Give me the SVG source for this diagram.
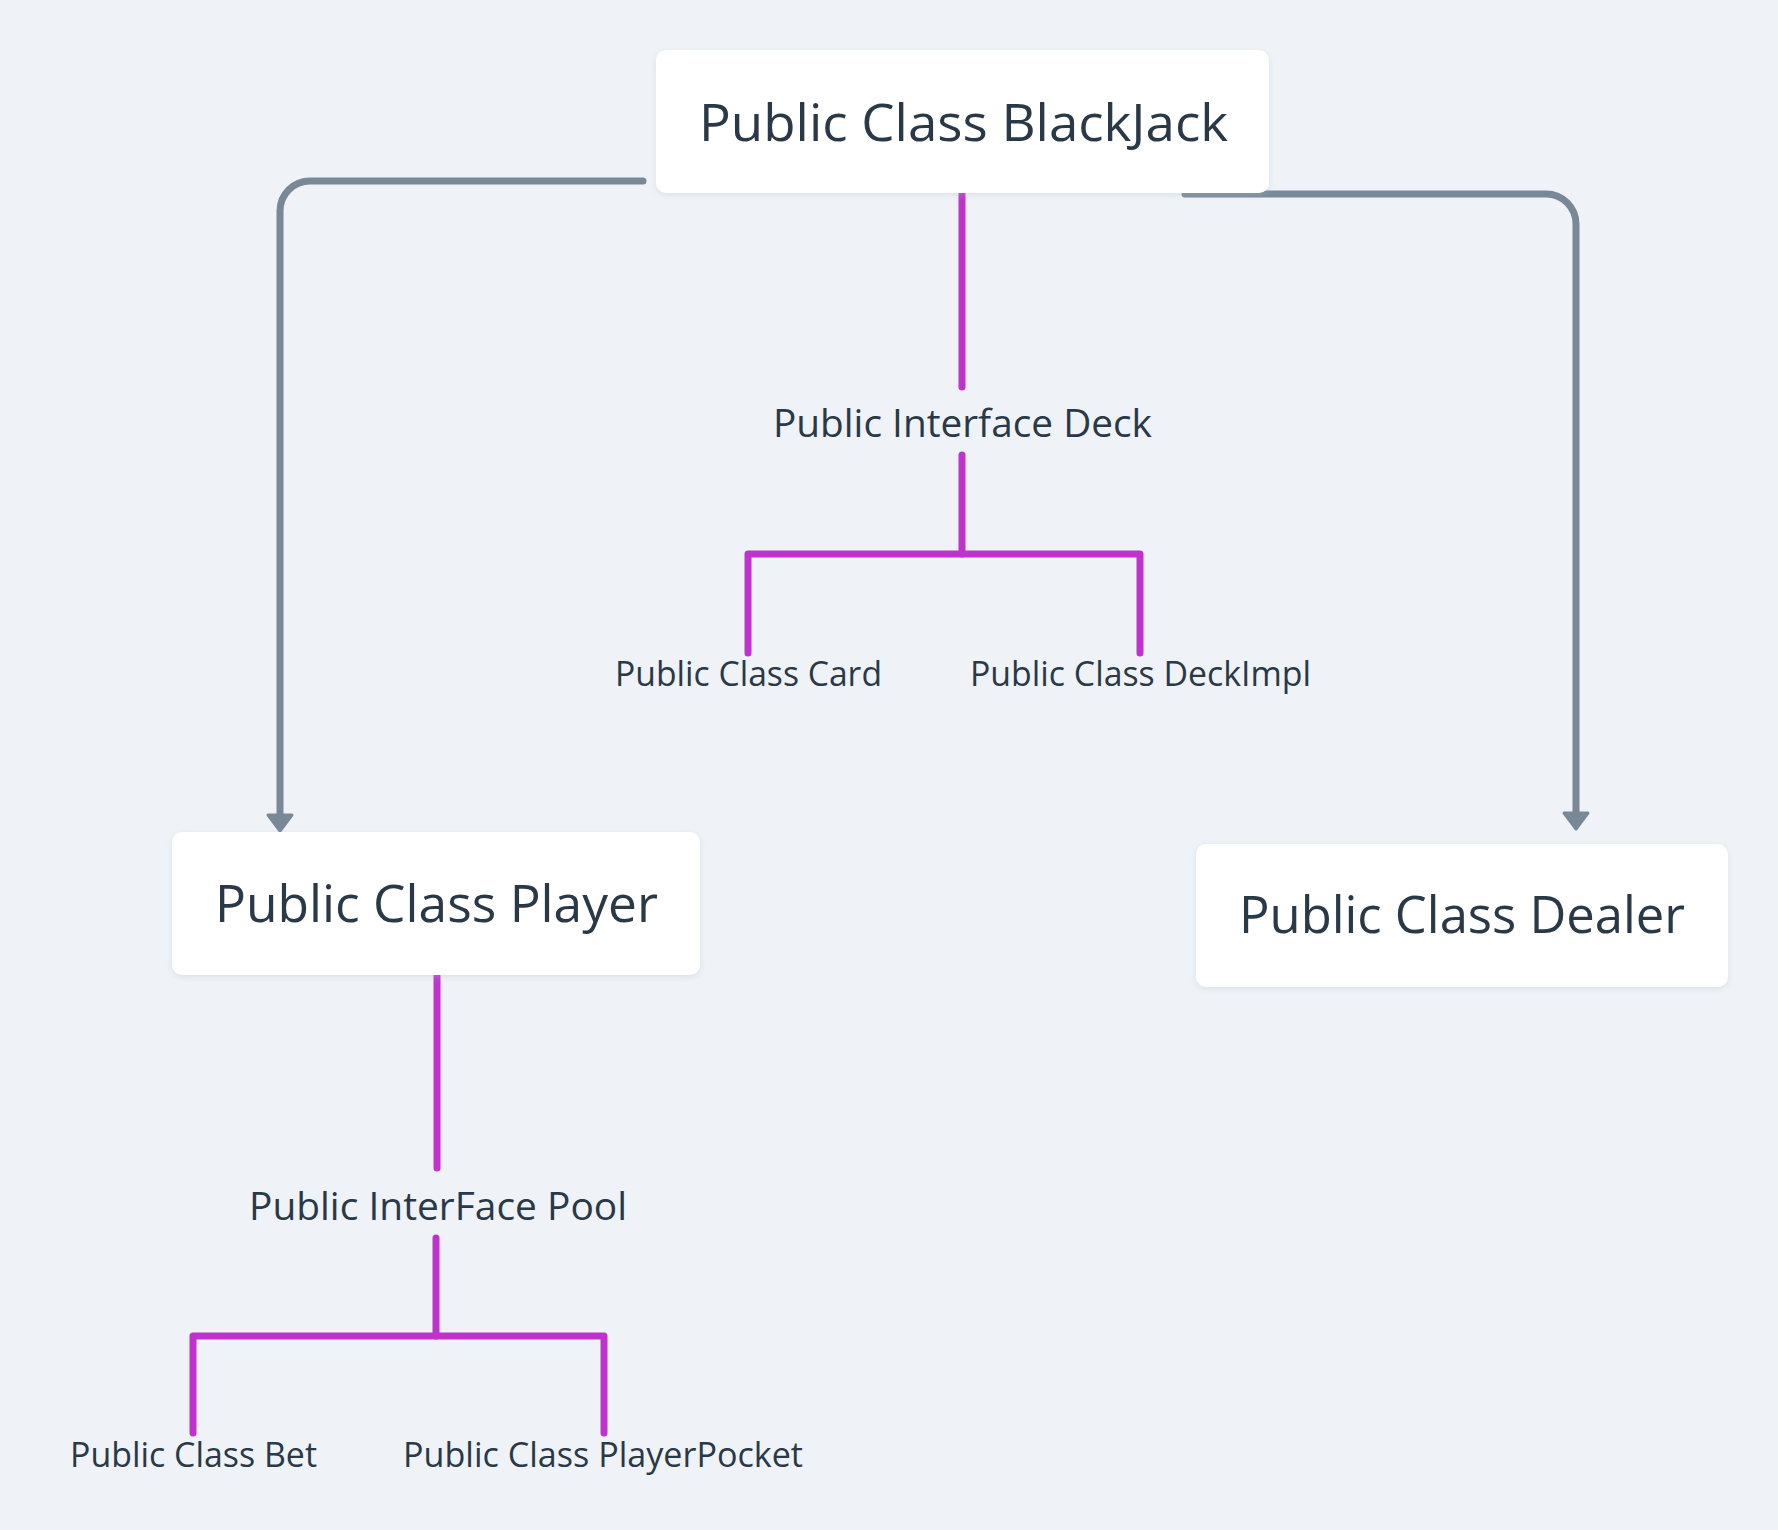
<svg xmlns="http://www.w3.org/2000/svg" width="1778" height="1530" viewBox="0 0 1778 1530">
<style>
.bg{fill:#eff3f7}
.box{fill:#ffffff;filter:url(#sh)}
.t{font-family:"Open Sans","DejaVu Sans",sans-serif;fill:#2a3947}
.big{font-size:52px}
.mid{font-size:39px}
.small{font-size:34px}
.gray{fill:none;stroke:#798897;stroke-width:7;stroke-linecap:round;stroke-linejoin:round}
.mag{fill:none;stroke:#bf33cc;stroke-width:7;stroke-linecap:round;stroke-linejoin:round}
</style>
<defs>
<filter id="sh" x="-10%" y="-20%" width="120%" height="140%">
<feDropShadow dx="0" dy="2" stdDeviation="3" flood-color="#b0bcc8" flood-opacity="0.35"/>
</filter>
<marker id="arr" markerUnits="userSpaceOnUse" viewBox="-3 -16 23 32" markerWidth="23" markerHeight="32" refX="0" refY="0" orient="auto">
<path d="M0,-12 L16,0 L0,12 Z" fill="#798897" stroke="#798897" stroke-width="3" stroke-linejoin="round"/>
</marker>
</defs>
<rect class="bg" x="0" y="0" width="1778" height="1530"/>
<g id="connectors">
<path class="gray" d="M643,181 H310 A30,30 0 0 0 280,211 V815" marker-end="url(#arr)"/>
<path class="gray" d="M1185,194 H1546 A30,30 0 0 1 1576,224 V813" marker-end="url(#arr)"/>
<path class="mag" d="M962,190 V387"/>
<path class="mag" d="M962,455 V554"/>
<path class="mag" d="M748,653 V554 H1140 V653"/>
<path class="mag" d="M437,970 V1168"/>
<path class="mag" d="M436,1238 V1336"/>
<path class="mag" d="M193,1433 V1336 H604 V1433"/>
</g>
<g id="node-blackjack">
<rect class="box" x="656" y="50" width="613" height="143" rx="10"/>
<text class="t big" x="699" y="141" textLength="529" lengthAdjust="spacingAndGlyphs">Public Class BlackJack</text>
</g>
<g id="node-deck">
<text class="t mid" x="773" y="437" textLength="379" lengthAdjust="spacingAndGlyphs">Public Interface Deck</text>
</g>
<g id="node-card">
<text class="t small" x="615" y="686" textLength="267" lengthAdjust="spacingAndGlyphs">Public Class Card</text>
</g>
<g id="node-deckimpl">
<text class="t small" x="970" y="686" textLength="341" lengthAdjust="spacingAndGlyphs">Public Class DeckImpl</text>
</g>
<g id="node-player">
<rect class="box" x="172" y="832" width="528" height="143" rx="10"/>
<text class="t big" x="215" y="922" textLength="443" lengthAdjust="spacingAndGlyphs">Public Class Player</text>
</g>
<g id="node-dealer">
<rect class="box" x="1196" y="844" width="532" height="143" rx="10"/>
<text class="t big" x="1239" y="933" textLength="446" lengthAdjust="spacingAndGlyphs">Public Class Dealer</text>
</g>
<g id="node-pool">
<text class="t mid" x="249" y="1220" textLength="378" lengthAdjust="spacingAndGlyphs">Public InterFace Pool</text>
</g>
<g id="node-bet">
<text class="t small" x="70" y="1467" textLength="247" lengthAdjust="spacingAndGlyphs">Public Class Bet</text>
</g>
<g id="node-playerpocket">
<text class="t small" x="403" y="1467" textLength="400" lengthAdjust="spacingAndGlyphs">Public Class PlayerPocket</text>
</g>
</svg>
